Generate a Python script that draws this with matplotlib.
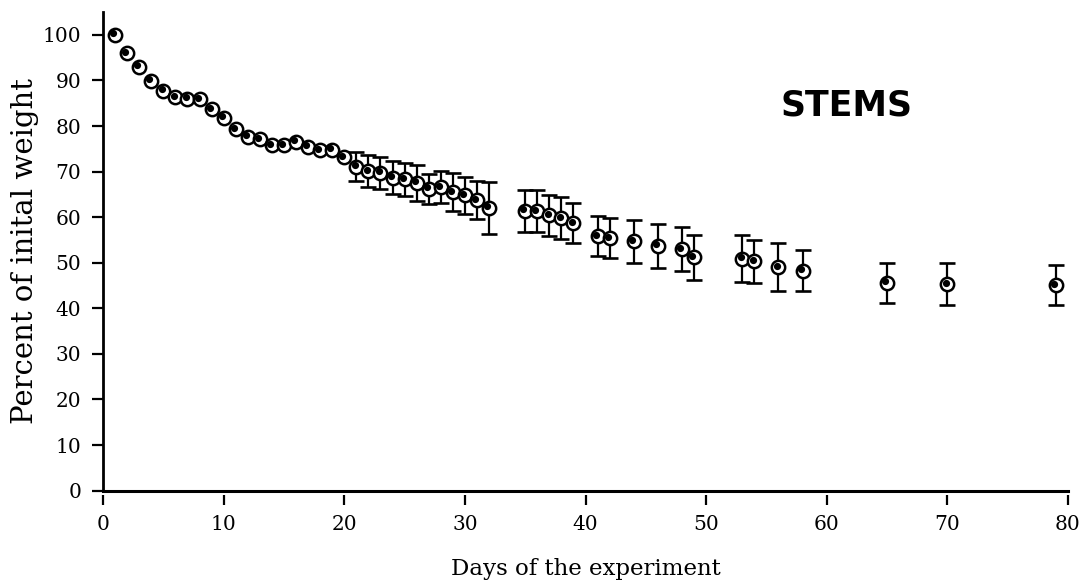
import numpy as np
import matplotlib
matplotlib.use("Agg")
import matplotlib.pyplot as plt
from matplotlib.transforms import ScaledTranslation

# Stem mass loss over the experiment (mean % of initial weight, SD where measured)
days = [1, 2, 3, 4, 5, 6, 7, 8, 9, 10, 11, 12, 13, 14, 15, 16, 17, 18, 19, 20,
        21, 22, 23, 24, 25, 26, 27, 28, 29, 30, 31, 32,
        35, 36, 37, 38, 39, 41, 42, 44, 46, 48, 49, 53, 54, 56, 58, 65, 70, 79]
weight = [100.0, 96.0, 93.0, 89.9, 87.7, 86.3, 86.0, 85.9, 83.7, 81.8,
          79.3, 77.6, 77.1, 75.8, 75.8, 76.5, 75.4, 74.7, 74.8, 73.1,
          71.1, 70.1, 69.7, 68.7, 68.3, 67.5, 66.2, 66.6, 65.5, 64.8, 63.7, 62.1,
          61.4, 61.3, 60.4, 59.8, 58.7, 55.8, 55.4, 54.7, 53.7, 53.0, 51.2,
          50.9, 50.3, 49.0, 48.3, 45.6, 45.3, 45.1]
sd = [0, 0, 0, 0, 0, 0, 0, 0, 0, 0, 0, 0, 0, 0, 0, 0, 0, 0, 0, 0,
      3.1, 3.5, 3.6, 3.65, 3.6, 3.95, 3.3, 3.55, 4.15, 4.1, 4.2, 5.7,
      4.55, 4.65, 4.45, 4.65, 4.4, 4.4, 4.4, 4.7, 4.8, 4.8, 5.0,
      5.2, 4.8, 5.3, 4.6, 4.4, 4.65, 4.45]
x_ticks = [0, 10, 20, 30, 40, 50, 60, 70, 80]
y_ticks = [0, 10, 20, 30, 40, 50, 60, 70, 80, 90, 100]

days = np.array(days, dtype=float)
weight = np.array(weight)
sd = np.array(sd)

plt.rcParams["font.family"] = ["DejaVu Serif"]

fig = plt.figure(figsize=(10.89, 5.85), dpi=100)
ax = fig.add_axes([0.0946, 0.1613, 0.8861, 0.818])

# error bars only where a spread was recorded
has_err = sd > 0
ax.errorbar(days[has_err], weight[has_err], yerr=sd[has_err], fmt="none",
            ecolor="black", elinewidth=1.6, capsize=5.8, capthick=1.9,
            zorder=2)

# open circles with a small filled dot inside
ax.plot(days, weight, "o", ms=9.6, mfc="white", mec="black", mew=1.8,
        zorder=3)
dot = ax.transData + ScaledTranslation(-1.3 / 72, 1.1 / 72, fig.dpi_scale_trans)
ax.plot(days, weight, "o", ms=5.2, color="black", mew=0, transform=dot,
        zorder=4)

ax.set_xlim(0, 80)
ax.set_ylim(0, 105)
ax.set_xticks(x_ticks)
ax.set_yticks(y_ticks)

for s in ("top", "right"):
    ax.spines[s].set_visible(False)
ax.spines["left"].set_linewidth(2)
ax.spines["bottom"].set_visible(False)
ax.spines["bottom"].set_position(("outward", 3))
ax.axhline(0, color="black", lw=2.2, clip_on=False, zorder=5)

ax.tick_params(axis="both", direction="out", width=1.6, labelsize=14.5,
               colors="black")
ax.tick_params(axis="x", length=7.5, pad=7)
ax.tick_params(axis="y", length=8, pad=7.5)

ax.set_xlabel("Days of the experiment", fontsize=16.5, labelpad=17)
ax.set_ylabel("Percent of inital weight", fontsize=21, labelpad=3)

ax.text(61.6, 84.5, "STEMS", family="DejaVu Sans", fontweight="bold",
        fontsize=25, ha="center", va="center")

fig.savefig("out.png", dpi=100)
